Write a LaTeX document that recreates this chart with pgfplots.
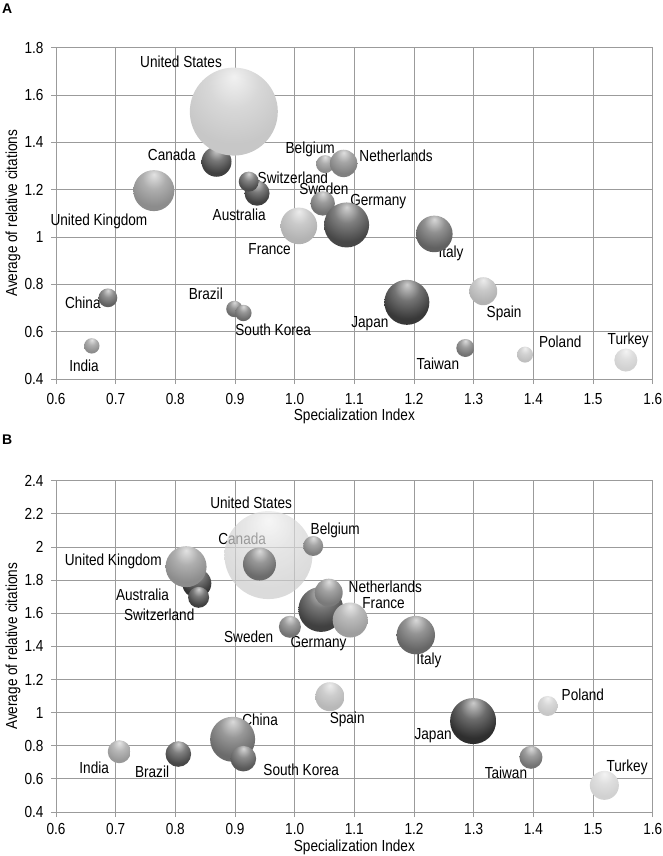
\documentclass[border=0pt]{standalone}
\usepackage{pgfplots}
\pgfplotsset{compat=1.18}
\usepackage{fontspec}
\setmainfont{Liberation Sans}[FakeStretch=0.85]
\newfontfamily\letterfont{Liberation Sans}

\definecolor{gridgray}{RGB}{155,155,155}
\colorlet{sphc}{gray}
\pgfdeclareradialshading[sphc]{sph}{\pgfqpoint{0bp}{20bp}}{%
 color(0bp)=(sphc!25!white);
 color(14bp)=(sphc!70!white);
 color(30bp)=(sphc);
 color(52bp)=(sphc);
 color(64bp)=(sphc!82!black);
 color(70bp)=(sphc!70!black)}
\pgfdeclareplotmark{sph}{%
  \pgfpathcircle{\pgfpointorigin}{\pgfplotmarksize}%
  \pgfshadepath{sph}{0}%
  \pgfusepath{}%
}
\newcommand{\fs}{\fontsize{16pt}{19pt}\selectfont}
\tikzset{sphcol/.code={\colorlet{sphc}{#1}}, lbl/.style={font=\fs, inner sep=0pt}}
\newcommand{\bub}[4]{\addplot[only marks, mark=sph, mark size=#3pt, sphcol={black!#4}] coordinates {(#1,#2)};}

\pgfplotsset{
  myax/.style={
    scale only axis, width=596.7pt, height=331.3pt,
    xmin=0.6, xmax=1.6,
    xtick={0.6,0.7,0.8,0.9,1.0,1.1,1.2,1.3,1.4,1.5,1.6},
    grid=major, grid style={draw=gridgray, line width=0.8pt},
    axis line style={draw=gridgray, line width=0.8pt},
    tick style={draw=gridgray, line width=0.8pt},
    tick align=outside, major tick length=5pt,
    xtick pos=bottom, ytick pos=left,
    ticklabel style={font=\fs},
    /pgf/number format/assume math mode=true,
    xticklabel style={/pgf/number format/fixed, /pgf/number format/fixed zerofill, /pgf/number format/precision=1},
    yticklabel style={xshift=-4pt},
    label style={font=\fs},
    xlabel={Specialization Index},
    ylabel={Average of relative citations},
    ylabel style={at={(axis description cs:-0.072,0.5)}, anchor=center},
    clip=false,
  },
}

\begin{document}
\begin{tikzpicture}
\path[use as bounding box] (0,0) rectangle (662pt,-856pt);
\node[anchor=north west, inner sep=0pt, font=\letterfont\bfseries\fontsize{14pt}{16pt}\selectfont] at (2pt,-4pt) {A};
\node[anchor=north west, inner sep=0pt, font=\letterfont\bfseries\fontsize{14pt}{16pt}\selectfont] at (2pt,-435pt) {B};

% ---------------- Panel A ----------------
\begin{axis}[myax, at={(56pt,-379pt)}, anchor=south west,
  ymin=0.4, ymax=1.8, ytick={0.4,0.6,0.8,1,1.2,1.4,1.6,1.8},
  xticklabel style={/tikz/yshift=-6pt},
  xlabel style={at={(axis description cs:0.5,-0.112)}, anchor=center}]
\bub{0.869}{1.318}{15}{75}
\bub{0.898}{1.530}{44}{22}
\bub{0.764}{1.196}{20.5}{45}
\bub{0.937}{1.185}{12.5}{75}
\bub{0.923}{1.234}{10}{70}
\bub{1.051}{1.308}{9}{45}
\bub{1.082}{1.311}{13.7}{50}
\bub{1.047}{1.142}{12.2}{55}
\bub{1.007}{1.047}{18.3}{30}
\bub{1.087}{1.051}{22.5}{72}
\bub{1.234}{1.013}{18.3}{62}
\bub{1.188}{0.724}{22.5}{78}
\bub{1.316}{0.771}{14}{30}
\bub{0.687}{0.743}{9.4}{62}
\bub{0.899}{0.696}{8.2}{58}
\bub{0.914}{0.679}{8.2}{58}
\bub{0.660}{0.540}{7.7}{45}
\bub{1.286}{0.531}{9}{55}
\bub{1.386}{0.503}{8}{25}
\bub{1.555}{0.480}{11.5}{18}
\node[lbl] at (axis cs:0.8095,1.740) {United States};
\node[lbl] at (axis cs:0.794,1.346) {Canada};
\node[lbl] at (axis cs:1.026,1.372) {Belgium};
\node[lbl] at (axis cs:1.170,1.344) {Netherlands};
\node[lbl] at (axis cs:0.997,1.249) {Switzerland};
\node[lbl] at (axis cs:1.049,1.203) {Sweden};
\node[lbl] at (axis cs:1.140,1.148) {Germany};
\node[lbl] at (axis cs:0.907,1.094) {Australia};
\node[lbl] at (axis cs:0.672,1.068) {United Kingdom};
\node[lbl] at (axis cs:0.958,0.949) {France};
\node[lbl] at (axis cs:1.262,0.931) {Italy};
\node[lbl] at (axis cs:0.645,0.720) {China};
\node[lbl] at (axis cs:0.851,0.760) {Brazil};
\node[lbl] at (axis cs:0.964,0.607) {South Korea};
\node[lbl] at (axis cs:1.126,0.632) {Japan};
\node[lbl] at (axis cs:1.351,0.679) {Spain};
\node[lbl] at (axis cs:0.647,0.455) {India};
\node[lbl] at (axis cs:1.240,0.463) {Taiwan};
\node[lbl] at (axis cs:1.445,0.556) {Poland};
\node[lbl] at (axis cs:1.559,0.564) {Turkey};
\end{axis}

% ---------------- Panel B ----------------
\begin{axis}[myax, at={(56pt,-812pt)}, anchor=south west,
  ymin=0.4, ymax=2.4, ytick={0.4,0.6,0.8,1,1.2,1.4,1.6,1.8,2,2.2,2.4},
  xticklabel style={/tikz/yshift=-3pt},
  xlabel style={at={(axis description cs:0.5,-0.108)}, anchor=center}]
\addplot[only marks, mark=sph, mark size=44pt, sphcol={black!20}, opacity=0.7] coordinates {(0.956,1.951)};
\bub{0.941}{1.897}{16.5}{58}
\bub{1.031}{2.006}{10}{50}
\bub{0.836}{1.780}{14.5}{80}
\bub{0.818}{1.881}{20.5}{45}
\bub{0.839}{1.696}{10.5}{75}
\bub{1.044}{1.623}{22.5}{75}
\bub{1.057}{1.724}{14}{52}
\bub{1.093}{1.559}{17.5}{38}
\bub{0.992}{1.518}{11}{55}
\bub{1.203}{1.468}{19.2}{60}
\bub{1.059}{1.096}{14.5}{28}
\bub{1.299}{0.949}{23}{82}
\bub{1.424}{1.040}{10}{22}
\bub{1.396}{0.730}{11.5}{55}
\bub{1.519}{0.561}{14.5}{18}
\bub{0.896}{0.839}{22.5}{58}
\bub{0.914}{0.722}{12.8}{65}
\bub{0.805}{0.750}{12.8}{72}
\bub{0.706}{0.764}{11.5}{40}
\node[lbl] at (axis cs:0.927,2.264) {United States};
\node[lbl] at (axis cs:1.068,2.102) {Belgium};
\node[lbl] at (axis cs:0.912,2.048) {Canada};
\node[lbl] at (axis cs:0.696,1.911) {United Kingdom};
\node[lbl] at (axis cs:0.745,1.714) {Australia};
\node[lbl] at (axis cs:0.773,1.589) {Switzerland};
\node[lbl] at (axis cs:1.152,1.760) {Netherlands};
\node[lbl] at (axis cs:1.149,1.663) {France};
\node[lbl] at (axis cs:0.923,1.458) {Sweden};
\node[lbl] at (axis cs:1.040,1.414) {Germany};
\node[lbl] at (axis cs:1.225,1.313) {Italy};
\node[lbl] at (axis cs:1.088,0.961) {Spain};
\node[lbl] at (axis cs:0.942,0.955) {China};
\node[lbl] at (axis cs:1.232,0.858) {Japan};
\node[lbl] at (axis cs:1.483,1.108) {Poland};
\node[lbl] at (axis cs:1.354,0.637) {Taiwan};
\node[lbl] at (axis cs:1.557,0.669) {Turkey};
\node[lbl] at (axis cs:1.011,0.653) {South Korea};
\node[lbl] at (axis cs:0.761,0.641) {Brazil};
\node[lbl] at (axis cs:0.664,0.669) {India};
\end{axis}
\end{tikzpicture}
\end{document}
